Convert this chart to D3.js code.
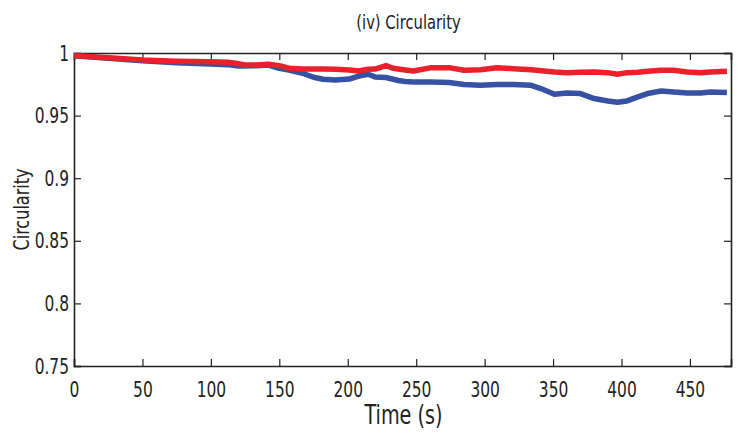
<!DOCTYPE html>
<html>
<head>
<meta charset="utf-8">
<script src="https://cdn.jsdelivr.net/npm/d3@7"></script>
<style>
  body { margin: 0; background: #fff; }
  text { font-family: "Liberation Sans Narrow", "DejaVu Sans Condensed", "Liberation Sans", sans-serif; fill: #222; }
</style>
</head>
<body>
<div id="chart"></div>
<script>
// Time (s) of the sampled points, one list per series
const blueTime = [0, 10, 25, 50, 75, 100, 112, 120, 133, 142, 150, 157, 167, 175, 182, 191, 201, 208, 215, 220, 228, 237, 242, 248, 261, 274, 285, 297, 309, 321, 334, 341, 351, 360, 370, 380, 390, 397, 404, 412, 419, 429, 438, 448, 458, 465, 477];
const blueCirc = [0.9978, 0.9970, 0.9958, 0.9938, 0.9922, 0.9912, 0.9907, 0.9896, 0.9899, 0.9904, 0.9878, 0.9864, 0.9838, 0.9806, 0.9790, 0.9784, 0.9792, 0.9816, 0.9830, 0.9808, 0.9804, 0.9780, 0.9772, 0.9768, 0.9768, 0.9764, 0.9748, 0.9742, 0.9748, 0.9748, 0.9742, 0.9716, 0.9670, 0.9681, 0.9676, 0.9636, 0.9617, 0.9606, 0.9617, 0.9649, 0.9676, 0.9696, 0.9688, 0.9681, 0.9681, 0.9688, 0.9684];

const redTime = [0, 25, 50, 75, 100, 112, 118, 125, 133, 142, 150, 157, 167, 182, 191, 201, 208, 215, 220, 228, 233, 242, 248, 261, 274, 285, 297, 309, 321, 334, 351, 360, 370, 380, 390, 397, 404, 412, 419, 429, 438, 448, 458, 465, 477];
const redCirc = [0.9979, 0.9962, 0.9944, 0.9935, 0.9931, 0.9926, 0.9918, 0.9904, 0.9904, 0.9910, 0.9899, 0.9878, 0.9872, 0.9872, 0.9870, 0.9864, 0.9856, 0.9870, 0.9872, 0.9899, 0.9878, 0.9864, 0.9856, 0.9883, 0.9883, 0.9862, 0.9867, 0.9883, 0.9875, 0.9867, 0.9848, 0.9843, 0.9846, 0.9848, 0.9843, 0.9830, 0.9843, 0.9846, 0.9854, 0.9862, 0.9862, 0.9848, 0.9843, 0.9848, 0.9854];

const xTicks = [0, 50, 100, 150, 200, 250, 300, 350, 400, 450];
const yTicks = [0.75, 0.8, 0.85, 0.9, 0.95, 1];
const yTickLabels = ["0.75", "0.8", "0.85", "0.9", "0.95", "1"];

const width = 751, height = 433;
const margin = { top: 53, right: 20, bottom: 67, left: 74 };
const w = width - margin.left - margin.right;
const h = height - margin.top - margin.bottom;

const svg = d3.select("#chart").append("svg")
    .attr("width", width)
    .attr("height", height)
    .append("g")
    .attr("transform", `translate(${margin.left},${margin.top})`);

const x = d3.scaleLinear().domain([0, 480]).range([0, w]);
const y = d3.scaleLinear().domain([0.75, 1]).range([h, 0]);

// squeeze text horizontally to mimic the condensed font of the original
function squeeze(sel, k) {
    sel.each(function () {
        const len = this.getComputedTextLength();
        d3.select(this).attr("textLength", len * k).attr("lengthAdjust", "spacingAndGlyphs");
    });
}

// Ticks pointing inwards on all four sides
const tickLen = 7;
const bottomAxis = svg.append("g")
    .attr("transform", `translate(0,${h})`)
    .call(d3.axisBottom(x).tickValues(xTicks).tickSize(-tickLen).tickPadding(15).tickFormat(d3.format("d")));
bottomAxis.selectAll("text").style("font-size", "22px").attr("dy", "0.71em");

svg.append("g")
    .call(d3.axisTop(x).tickValues(xTicks).tickSize(-tickLen).tickFormat(""));

const leftAxis = svg.append("g")
    .call(d3.axisLeft(y).tickValues(yTicks).tickSize(-tickLen).tickPadding(5).tickFormat((d, i) => yTickLabels[i]));
leftAxis.selectAll("text").style("font-size", "22px");

svg.append("g")
    .attr("transform", `translate(${w},0)`)
    .call(d3.axisRight(y).tickValues(yTicks).tickSize(-tickLen).tickFormat(""));

svg.selectAll(".domain").attr("stroke", "#222").attr("stroke-width", 1.6);
svg.selectAll(".tick line").attr("stroke", "#222").attr("stroke-width", 1.2);

squeeze(bottomAxis.selectAll("text"), 0.78);
squeeze(leftAxis.selectAll("text"), 0.78);

// Lines: blue first, red drawn over it
const series = [
    { time: blueTime, vals: blueCirc, color: "#3751a3" },
    { time: redTime, vals: redCirc, color: "#e8212b" }
];

series.forEach(s => {
    const pts = s.time.map((t, i) => [t, s.vals[i]]);
    svg.append("path")
        .datum(pts)
        .attr("fill", "none")
        .attr("stroke", s.color)
        .attr("stroke-width", 5.5)
        .attr("stroke-linejoin", "round")
        .attr("d", d3.line().x(d => x(d[0])).y(d => y(d[1])));
});

// Title and axis labels
const title = svg.append("text")
    .attr("x", w / 2 + 6)
    .attr("y", -24)
    .attr("text-anchor", "middle")
    .style("font-size", "20px")
    .text("(iv) Circularity");
squeeze(title, 0.82);

const xLabel = svg.append("text")
    .attr("x", w / 2 + 1)
    .attr("y", h + 58)
    .attr("text-anchor", "middle")
    .style("font-size", "26px")
    .text("Time (s)");
squeeze(xLabel, 0.82);

const yLabel = svg.append("text")
    .attr("transform", `translate(${29 - margin.left},${h / 2}) rotate(-90)`)
    .attr("text-anchor", "middle")
    .style("font-size", "21px")
    .text("Circularity");
squeeze(yLabel, 0.85);
</script>
</body>
</html>
